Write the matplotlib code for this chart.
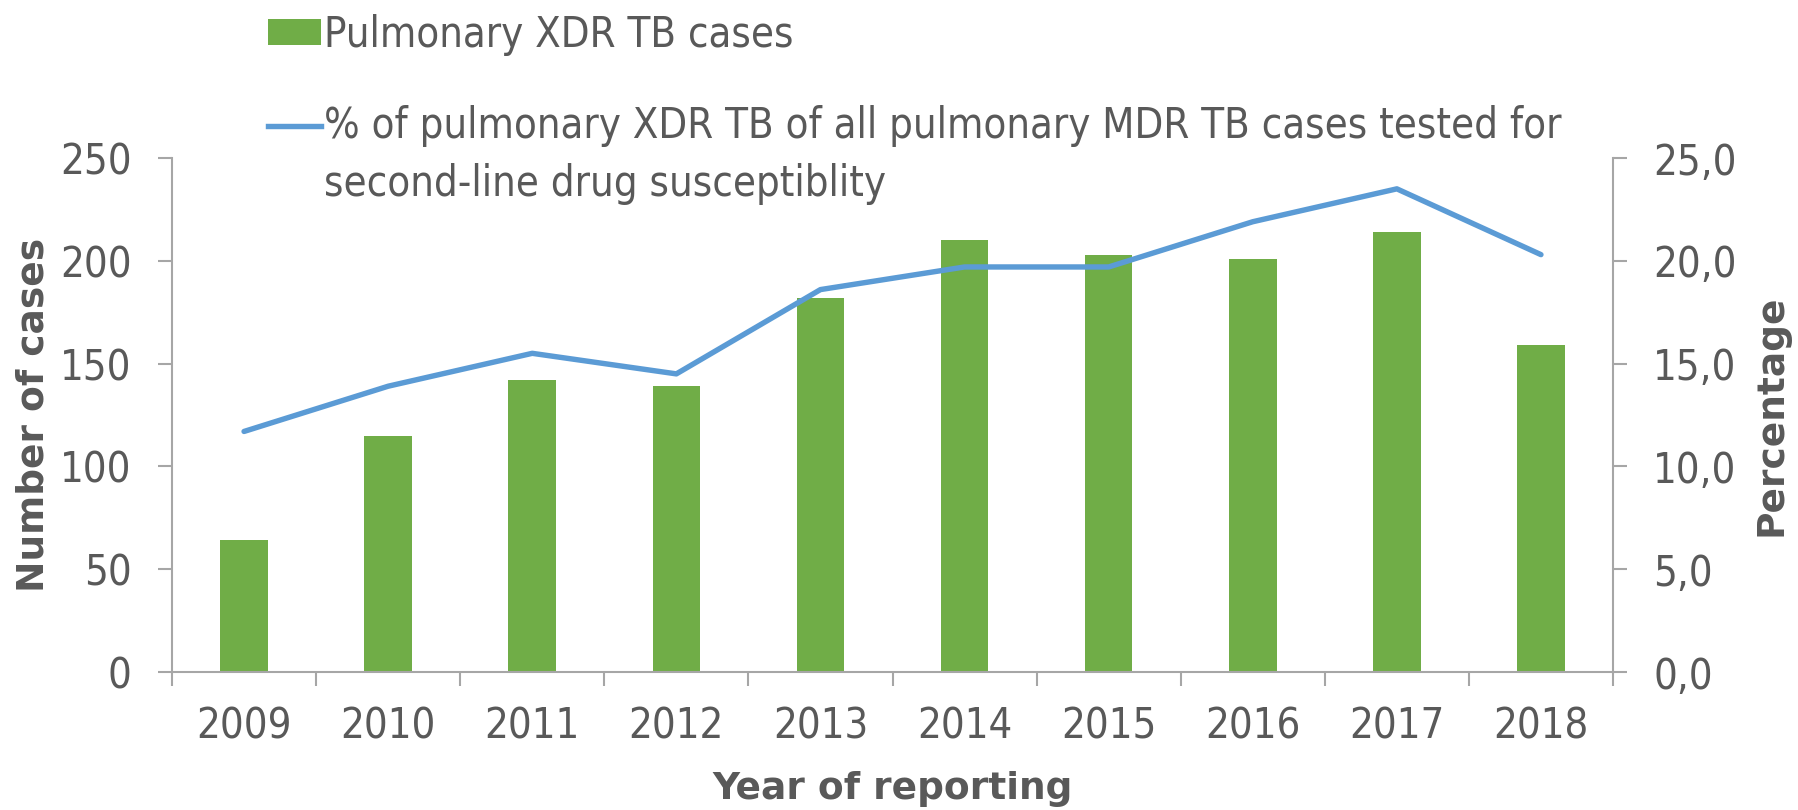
import matplotlib
matplotlib.use("Agg")
import matplotlib.pyplot as plt
import matplotlib.font_manager as fm
from matplotlib.patches import Patch
from matplotlib.lines import Line2D
from matplotlib.legend_handler import HandlerLine2D
from matplotlib.ticker import FuncFormatter
import numpy as np

years = ["2009", "2010", "2011", "2012", "2013", "2014", "2015", "2016", "2017", "2018"]
cases = [64, 115, 142, 139, 182, 210, 203, 201, 214, 159]
pct_xdr = [11.7, 13.9, 15.5, 14.5, 18.6, 19.7, 19.7, 21.9, 23.5, 20.3]

bar_label = "Pulmonary XDR TB cases"
line_label = "% of pulmonary XDR TB of all pulmonary MDR TB cases tested for\nsecond-line drug susceptiblity"

TEXT = "#595959"
AXC = "#a6a6a6"
GREEN = "#70ad47"
BLUE = "#5b9bd5"

plt.rcParams['font.family'] = ['DejaVu Sans']

# a condensed regular face if it is installed, otherwise plain DejaVu Sans
cond_path = None
for f in fm.fontManager.ttflist:
    base = f.fname.replace('\\', '/').split('/')[-1]
    if base == 'DejaVuSansCondensed.ttf':
        cond_path = f.fname
        break
if cond_path:
    FS = 30
    def REG():
        return fm.FontProperties(fname=cond_path, size=FS)
else:
    FS = 27
    def REG():
        return fm.FontProperties(family='DejaVu Sans', size=FS)

W, H = 1798, 810
fig = plt.figure(figsize=(W / 100, H / 100), dpi=100)
L, R, T, B = 172, 1613, 158, 672
ax = fig.add_axes([L / W, 1 - B / H, (R - L) / W, (B - T) / H])
x = np.arange(len(years))
ax.bar(x, cases, width=0.33, color=GREEN, zorder=2)
ax.set_xlim(-0.5, len(years) - 0.5)
ax.set_ylim(0, 250)
ax.set_yticks(np.arange(0, 251, 50))

ax2 = ax.twinx()
ax2.plot(x, pct_xdr, color=BLUE, lw=3.9, solid_capstyle='round', solid_joinstyle='round', zorder=3)
ax2.set_ylim(0, 25)
ax2.set_yticks(np.arange(0, 25.1, 5))
ax2.yaxis.set_major_formatter(FuncFormatter(lambda v, p: f"{v:.1f}".replace('.', ',')))

for a in (ax, ax2):
    for s in a.spines.values():
        s.set_color(AXC)
        s.set_linewidth(1.5)
    a.spines['top'].set_visible(False)
ax.spines['right'].set_visible(False)
ax2.spines['left'].set_visible(False)
ax2.spines['bottom'].set_visible(False)

# x ticks at category boundaries, labels at centres
ax.set_xticks(np.arange(-0.5, len(years), 1))
ax.set_xticklabels([])
ax.set_xticks(x, minor=True)
ax.set_xticklabels(years, minor=True)
ax.tick_params(axis='x', which='major', direction='out', length=10, width=1.5, color=AXC)
ax.tick_params(axis='x', which='minor', length=0, pad=24, labelcolor=TEXT)
ax.tick_params(axis='y', direction='out', length=10, width=1.5, color=AXC, pad=19, labelcolor=TEXT)
ax2.tick_params(axis='y', direction='out', length=10, width=1.5, color=AXC, pad=19, labelcolor=TEXT)
for lbl in (ax.get_xticklabels(minor=True) + ax.get_yticklabels() + ax2.get_yticklabels()):
    lbl.set_fontproperties(REG())

ax.set_ylabel("Number of cases", fontsize=27, fontweight='bold', color=TEXT, va='center')
ax.yaxis.set_label_coords(-0.0958, 0.5)
ax2.set_ylabel("Percentage", fontsize=27, fontweight='bold', color=TEXT, va='center', rotation=90)
ax2.yaxis.set_label_coords(1.1097, 0.5)
ax.set_xlabel("Year of reporting", fontsize=27, fontweight='bold', color=TEXT, va='center')
ax.xaxis.set_label_coords(0.5, -0.2276)


class FirstLineHandler(HandlerLine2D):
    """Line handle aligned with the first line of a two-line label."""
    def __init__(self, shift, **kw):
        super().__init__(**kw)
        self.shift = shift

    def create_artists(self, legend, orig_handle, xdescent, ydescent, width, height, fontsize, trans):
        arts = super().create_artists(legend, orig_handle, xdescent, ydescent, width, height,
                                      fontsize, trans)
        for a in arts:
            a.set_ydata(np.asarray(a.get_ydata()) + self.shift * fontsize)
        return arts


line_handle = Line2D([], [], color=BLUE, lw=3.9)
handles = [Patch(facecolor=GREEN, edgecolor='none'), line_handle]
leg = fig.legend(handles, [bar_label, line_label], loc='upper left',
                 bbox_to_anchor=(268 / W, 1 - 14 / H), frameon=False, prop=REG(),
                 handlelength=53 / (FS * 100 / 72), handleheight=24 / (FS * 100 / 72),
                 handletextpad=0.07, labelspacing=1.18, borderpad=0, borderaxespad=0,
                 labelcolor=TEXT,
                 handler_map={line_handle: FirstLineHandler(shift=0.76)})
for t in leg.get_texts():
    t.set_linespacing(1.47)

fig.savefig("out.png", dpi=100)
